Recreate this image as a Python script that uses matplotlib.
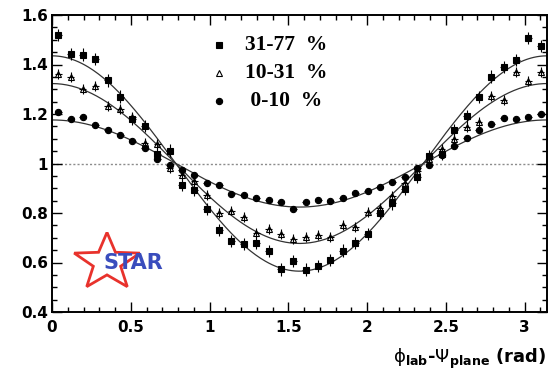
import numpy as np
import matplotlib
matplotlib.use("Agg")
import matplotlib.pyplot as plt
from matplotlib.ticker import MultipleLocator, FormatStrFormatter
from matplotlib.patches import Polygon

# azimuthal distribution relative to the event plane, 40 bins in [0, pi]
n_bins = 40
edges = np.linspace(0.0, np.pi, n_bins + 1)
phi = 0.5 * (edges[:-1] + edges[1:])

centralities = ["31-77  %", "10-31  %", " 0-10  %"]

r_31_77 = [1.519, 1.442, 1.440, 1.422, 1.336, 1.270, 1.180, 1.151, 1.038, 1.052,
           0.913, 0.893, 0.817, 0.731, 0.688, 0.676, 0.678, 0.647, 0.572, 0.607,
           0.571, 0.585, 0.611, 0.648, 0.679, 0.716, 0.800, 0.839, 0.898, 0.945,
           1.030, 1.040, 1.135, 1.190, 1.268, 1.351, 1.391, 1.418, 1.508, 1.475]

r_10_31 = [1.362, 1.350, 1.300, 1.312, 1.232, 1.220, 1.188, 1.084, 1.080, 0.983,
           0.953, 0.930, 0.872, 0.800, 0.810, 0.785, 0.720, 0.736, 0.715, 0.694,
           0.704, 0.711, 0.704, 0.752, 0.745, 0.805, 0.819, 0.870, 0.920, 0.970,
           1.020, 1.060, 1.100, 1.149, 1.169, 1.272, 1.257, 1.369, 1.335, 1.371]

r_0_10 = [1.207, 1.180, 1.189, 1.156, 1.134, 1.114, 1.092, 1.061, 1.017, 0.994,
          0.974, 0.953, 0.920, 0.914, 0.877, 0.871, 0.859, 0.853, 0.843, 0.815,
          0.846, 0.853, 0.850, 0.859, 0.881, 0.888, 0.904, 0.924, 0.947, 0.980,
          0.995, 1.034, 1.069, 1.104, 1.135, 1.159, 1.183, 1.180, 1.188, 1.198]

# fitted elliptic flow v2 for each centrality: dN/dphi ~ 1 + 2 v2 cos(2 phi)
v2_fit = [0.2175, 0.1615, 0.088]
y_err = [0.025, 0.02, 0.012]

series = [r_31_77, r_10_31, r_0_10]
markers = [("s", "k", 4.5), ("^", "none", 5), ("o", "k", 4.5)]

fig = plt.figure(figsize=(5.56, 3.74), dpi=100)
ax = fig.add_axes([52 / 556, 62 / 374, 495 / 556, 297 / 374])

ax.axhline(1.0, color="0.55", lw=1.0, ls=(0, (1.5, 1.5)), zorder=1)

phi_fine = np.linspace(0, np.pi, 300)
for vals, v2, err, (m, fc, ms) in zip(series, v2_fit, y_err, markers):
    ax.plot(phi_fine, 1 + 2 * v2 * np.cos(2 * phi_fine), color="0.2", lw=0.9, zorder=2)
    ax.errorbar(phi, vals, yerr=err, xerr=0.022, fmt=m, mfc=fc, mec="k",
                ms=ms, mew=0.8, ecolor="k", elinewidth=0.8, capsize=0, zorder=3)

ax.set_xlim(0, np.pi)
ax.set_ylim(0.4, 1.6)
ax.xaxis.set_major_locator(MultipleLocator(0.5))
ax.xaxis.set_minor_locator(MultipleLocator(0.1))
ax.yaxis.set_major_locator(MultipleLocator(0.2))
ax.yaxis.set_minor_locator(MultipleLocator(0.05))
ax.xaxis.set_major_formatter(FormatStrFormatter("%g"))
ax.yaxis.set_major_formatter(FormatStrFormatter("%g"))
ax.tick_params(which="both", direction="in", top=True, right=True, width=1.0)
ax.tick_params(which="major", length=7)
ax.tick_params(which="minor", length=3.5)
for lab in ax.get_xticklabels() + ax.get_yticklabels():
    lab.set_fontweight("bold")
    lab.set_fontsize(11)
ax.tick_params(axis="x", pad=6)
ax.tick_params(axis="y", pad=3)
for sp in ax.spines.values():
    sp.set_linewidth(1.4)

# legend drawn by hand
leg_y = [0.899, 0.805, 0.711]
for (m, fc, ms), label, yy in zip(markers, centralities, leg_y):
    ax.plot([0.337], [yy], marker=m, mfc=fc, mec="k", ms=ms, mew=0.8,
            transform=ax.transAxes, clip_on=False)
    ax.text(0.39, yy, label, transform=ax.transAxes, va="center", ha="left",
            fontsize=15.5, fontweight="bold", family="Liberation Serif")

fig.text(0.982, 0.03,
         r"$\mathrm{\phi}_{\mathbf{lab}}$-$\Psi_{\mathbf{plane}}$ (rad)",
         ha="right", va="baseline", fontsize=13, fontweight="bold")

# STAR logo
logo = fig.add_axes([62 / 556, 84 / 374, 106 / 556, 58 / 374])
logo.set_xlim(0, 106)
logo.set_ylim(0, 58)
logo.axis("off")
ang = np.pi / 2 + np.arange(10) * np.pi / 5
rad = np.where(np.arange(10) % 2 == 0, 30.0, 12.5)
star = np.column_stack([45 + 1.15 * rad * np.cos(ang), 27.6 + rad * np.sin(ang)])
logo.add_patch(Polygon(star, closed=True, fill=False, ec="#e8322c", lw=2.0))
logo.text(71, 27, "STAR", ha="center", va="center", color="#3a4dbd",
          fontsize=15, fontweight="bold", family="DejaVu Sans")

fig.savefig("out.png", dpi=100)
